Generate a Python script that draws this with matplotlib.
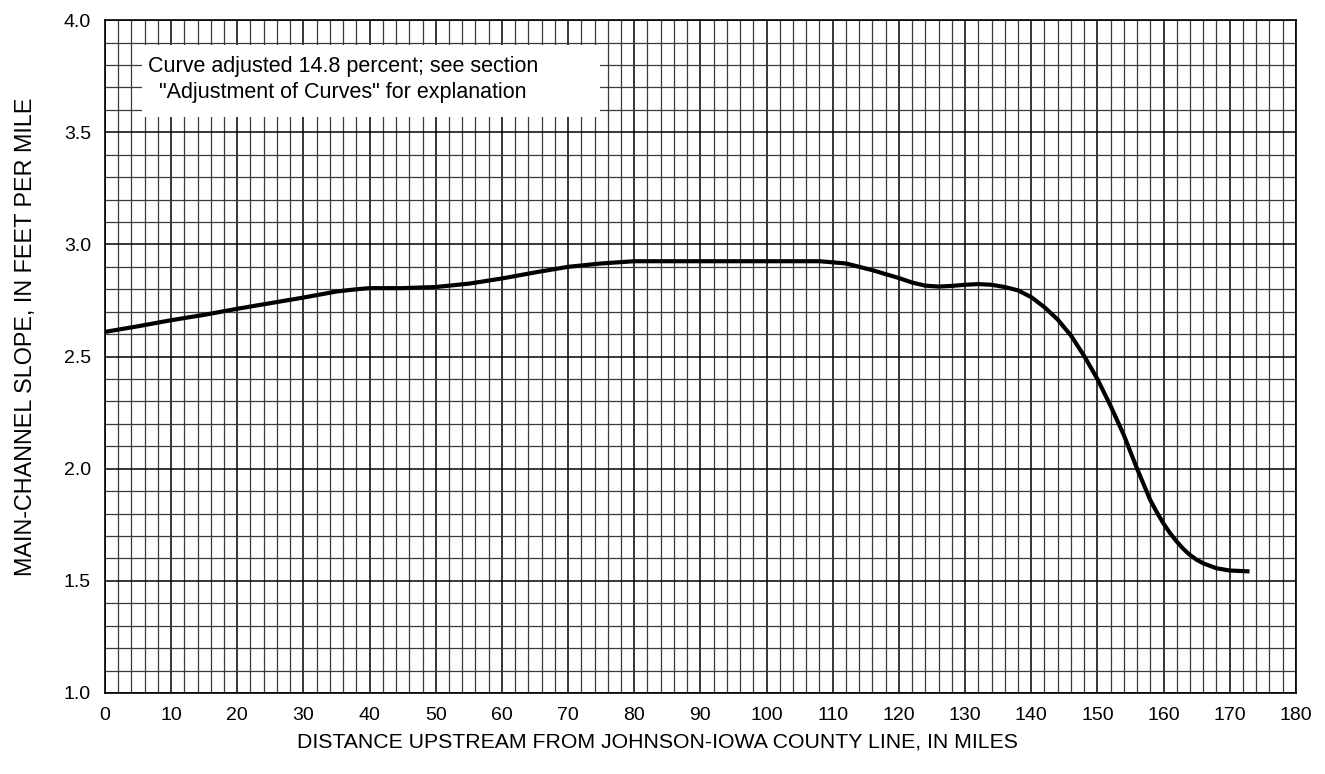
import numpy as np
import matplotlib.pyplot as plt
from matplotlib.patches import Rectangle
from matplotlib.ticker import MultipleLocator

plt.rcParams['font.family'] = ['Liberation Sans', 'DejaVu Sans']

# distance upstream (miles) and main-channel slope (ft/mi)
dist = [0, 5, 10, 15, 20, 25, 30, 35, 38, 40, 45, 50, 55, 60, 65, 70, 75, 80,
        90, 100, 108, 112, 116, 120, 122, 124, 126, 128, 130, 132, 134, 136,
        138, 140, 142, 144, 146, 148, 150, 152, 154, 156, 158, 159, 160, 161,
        162, 163, 164, 165, 166, 168, 170, 173]
slope = [2.61, 2.635, 2.662, 2.686, 2.713, 2.738, 2.763, 2.79, 2.80, 2.805,
         2.805, 2.81, 2.825, 2.848, 2.875, 2.90, 2.915, 2.925, 2.925, 2.925,
         2.925, 2.915, 2.885, 2.85, 2.83, 2.816, 2.812, 2.815, 2.82, 2.823,
         2.82, 2.81, 2.795, 2.765, 2.72, 2.665, 2.594, 2.503, 2.40, 2.28,
         2.15, 2.00, 1.86, 1.805, 1.755, 1.712, 1.675, 1.642, 1.615, 1.594,
         1.578, 1.556, 1.546, 1.542]

note = 'Curve adjusted 14.8 percent; see section\n"Adjustment of Curves" for explanation'

fig = plt.figure(figsize=(13.25, 7.74), dpi=100)
ax = fig.add_axes([0.0792, 0.1047, 0.8988, 0.8693])

ax.plot(dist, slope, color='black', lw=3.0, solid_capstyle='butt',
        solid_joinstyle='round', zorder=5)

ax.set_xlim(0, 180)
ax.set_ylim(1.0, 4.0)
ax.xaxis.set_major_locator(MultipleLocator(10))
ax.xaxis.set_minor_locator(MultipleLocator(2))
ax.yaxis.set_major_locator(MultipleLocator(0.5))
ax.yaxis.set_minor_locator(MultipleLocator(0.1))
ax.yaxis.set_major_formatter(plt.FormatStrFormatter('%.1f'))

ax.grid(which='major', color='black', lw=1.1, zorder=1)
ax.grid(which='minor', color='#3a3a3a', lw=0.9, zorder=1)
ax.set_axisbelow(True)
ax.tick_params(which='both', length=0, labelsize=14, pad=10)
for s in ax.spines.values():
    s.set_linewidth(1.2)

# white box behind the note
ax.add_patch(Rectangle((5.6, 3.567), 69.3, 0.321, facecolor='white',
                       edgecolor='none', zorder=3))
ax.text(36.0, 3.737, note, ha='center', va='center', fontsize=15.5,
        linespacing=1.3, zorder=4)

ax.set_xlabel('DISTANCE UPSTREAM FROM JOHNSON-IOWA COUNTY LINE, IN MILES',
              fontsize=15.3, va='center')
ax.xaxis.set_label_coords(0.464, -0.073)
ax.set_ylabel('MAIN-CHANNEL SLOPE, IN FEET PER MILE', fontsize=16.8,
              va='center')
ax.yaxis.set_label_coords(-0.0663, 0.53)

fig.savefig('out.png', dpi=100)
